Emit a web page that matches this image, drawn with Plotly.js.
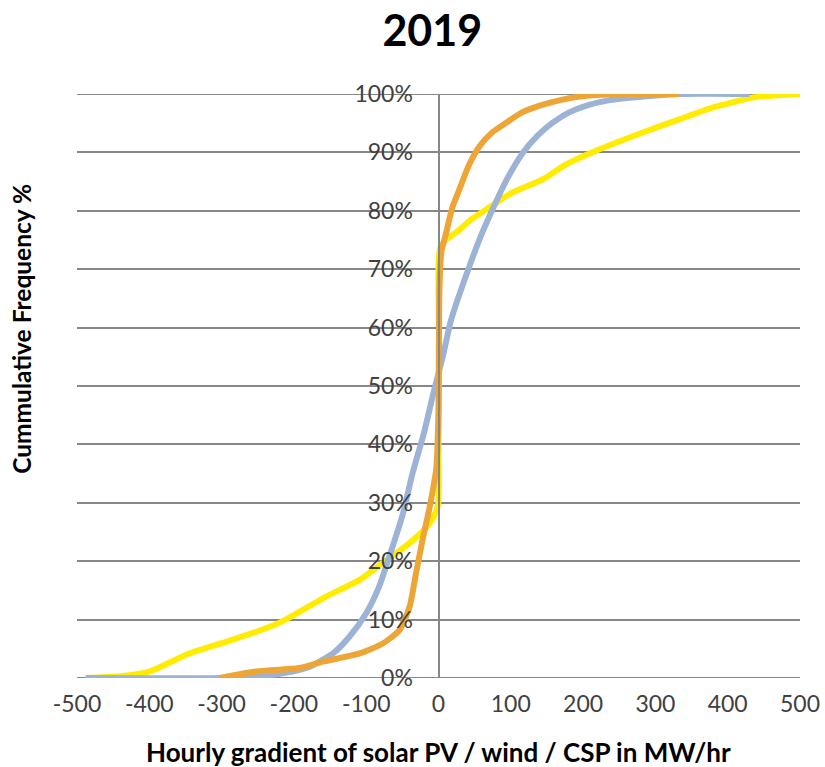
<!DOCTYPE html>
<html>
<head>
<meta charset="utf-8">
<script src="https://cdn.plot.ly/plotly-3.0.1.min.js"></script>
<style>html,body{margin:0;padding:0;background:#fff;}#chart{width:825px;height:767px;}</style>
</head>
<body>
<div id="chart"></div>
<script>
// Solar PV (yellow)
const pvX = [-488, -440, -400, -345, -294, -250, -216, -156, -109, -77, -40, -12, -1, 0, 1, 0, 2, 10, 24.5, 45, 70.6, 100, 144.5, 177, 218, 278, 334, 380, 435, 470, 500];
const pvY = [0, 0.3, 1.1, 4.2, 6.2, 8, 9.7, 13.9, 16.8, 19.7, 23.1, 26.5, 29.4, 40, 55, 70, 73.5, 75, 76.3, 78.5, 80.6, 83, 85.4, 88, 90.3, 93.2, 95.7, 97.7, 99.4, 99.8, 100];
// Wind (blue-grey)
const windX = [-488, -300, -250, -216, -179, -146, -123, -100, -82, -68, -49, -36, -20, -8, 6, 17.6, 43, 58, 75, 95, 117, 138, 158, 180, 204.6, 235, 269, 334, 430];
const windY = [0, 0, 0.3, 0.8, 1.9, 4.2, 7.1, 11.1, 15.7, 20.8, 28.2, 35, 42, 48.3, 55.1, 61.4, 70.6, 75.5, 80.3, 85.5, 90, 93, 95.1, 96.8, 98, 98.9, 99.4, 100, 100];
// CSP (orange)
const cspX = [-303, -252, -193, -160, -109, -77, -54, -40, -31, -22, -12, -3, 0, 0.4, 1.4, 4, 10.7, 19, 29, 42, 57, 75, 94, 115, 140, 170, 204.6, 260, 334];
const cspY = [0, 1.1, 1.7, 2.8, 4.2, 5.9, 8.2, 12.2, 18, 23.7, 29.4, 36, 46, 53.4, 67, 73, 76.3, 80.5, 83.7, 87.8, 91.1, 93.5, 95.1, 96.8, 98, 99, 99.7, 100, 100];

const xTicks = [-500, -400, -300, -200, -100, 0, 100, 200, 300, 400, 500];
const yTicks = [0, 10, 20, 30, 40, 50, 60, 70, 80, 90, 100];

const FONT = 'Lato, "Open Sans", "Liberation Sans", sans-serif';
const GRID = '#878787';

const lineStyle = (c) => ({color: c, width: 6, shape: 'spline', smoothing: 0.6});
const traces = [
  {x: pvX, y: pvY, mode: 'lines', name: 'Solar PV', line: lineStyle('#FFEC00')},
  {x: windX, y: windY, mode: 'lines', name: 'Wind', line: lineStyle('#9DB3D6')},
  {x: cspX, y: cspY, mode: 'lines', name: 'CSP', line: lineStyle('#EDA535')}
];

const layout = {
  width: 825, height: 767,
  margin: {l: 77, r: 25, t: 94, b: 89},
  paper_bgcolor: '#fff', plot_bgcolor: '#fff',
  showlegend: false,
  font: {family: FONT, color: '#404040', size: 23},
  title: {text: '<b>2019</b>', font: {family: FONT, size: 43, color: '#000'}, x: 0.524, xref: 'container', y: 0.96, yanchor: 'middle'},
  xaxis: {
    range: [-500, 500], tickvals: xTicks, ticktext: xTicks.map(String),
    showgrid: false, zeroline: false, showline: false, ticks: '',
    ticklabelstandoff: 10, fixedrange: true
  },
  yaxis: {
    range: [0, 100], tickvals: yTicks, ticktext: yTicks.map(v => v + '%'),
    anchor: 'free', position: 0.5, side: 'left',
    showgrid: true, gridcolor: GRID, gridwidth: 2,
    zeroline: false, showline: true, linecolor: GRID, linewidth: 2,
    ticks: '', ticklabelstandoff: 20, fixedrange: true
  },
  shapes: [0, 100].map(v => ({type: 'line', xref: 'paper', yref: 'y', x0: 0, x1: 1, y0: v, y1: v, line: {color: GRID, width: 2}, layer: 'below'})),
  annotations: [
    {text: '<b>Hourly gradient of solar PV / wind / CSP in MW/hr</b>', xref: 'paper', yref: 'paper', x: 0.5, y: 0, yshift: -74, xanchor: 'center', yanchor: 'middle', showarrow: false, font: {family: FONT, size: 26, color: '#000'}},
    {text: '<b>Cummulative Frequency %</b>', xref: 'paper', yref: 'paper', x: 0, xshift: -55, y: 0.598, xanchor: 'center', yanchor: 'middle', textangle: -90, showarrow: false, font: {family: FONT, size: 24.5, color: '#000'}}
  ]
};

Plotly.newPlot('chart', traces, layout, {displayModeBar: false, staticPlot: true});
</script>
</body>
</html>
